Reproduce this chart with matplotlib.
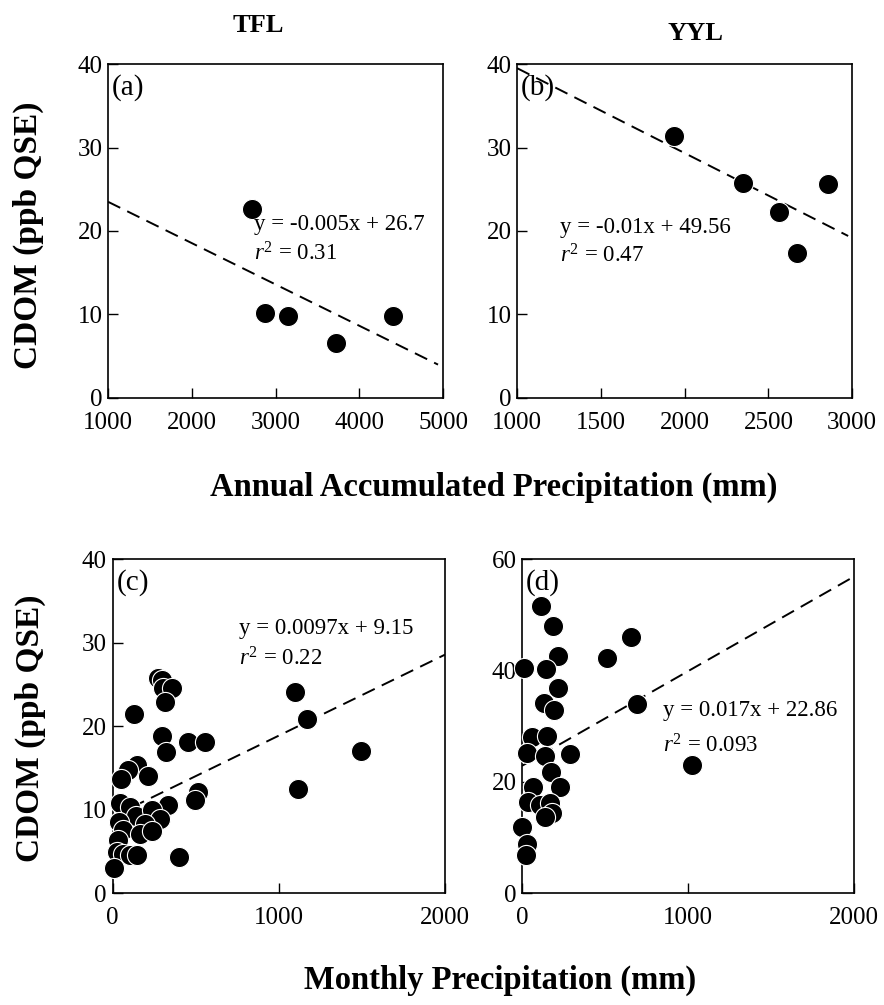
import matplotlib
matplotlib.use("Agg")
import matplotlib.pyplot as plt
import numpy as np

plt.rcParams['font.family'] = ['Liberation Serif', 'DejaVu Serif']
plt.rcParams['mathtext.fontset'] = 'custom'
plt.rcParams['mathtext.rm'] = 'Liberation Serif'
plt.rcParams['mathtext.it'] = 'Liberation Serif:italic'

# ---------------- data ----------------
# (a) TFL: annual accumulated precipitation vs CDOM
tfl_annual_precip = [2719, 2875, 3150, 3722, 4403]
tfl_annual_cdom = [22.6, 10.2, 9.8, 6.6, 9.8]
# (b) YYL
yyl_annual_precip = [1937, 2349, 2564, 2672, 2857]
yyl_annual_cdom = [31.4, 25.7, 22.3, 17.4, 25.6]

# (c) TFL monthly
tfl_month_precip = [276, 296, 305, 356, 316, 131, 296, 452, 556, 320,
                    145, 91, 212, 51, 516, 496, 332,
                    45, 105, 139, 236, 286, 39, 195, 65, 165, 236, 35,
                    25, 65, 105, 149, 11, 400,
                    1097, 1168, 1498, 1117]
tfl_month_cdom = [25.7, 25.5, 24.5, 24.5, 22.9, 21.5, 18.8, 18.1, 18.1, 16.9,
                  15.3, 14.7, 14.0, 13.6, 12.1, 11.2, 10.5,
                  10.8, 10.3, 9.2, 9.9, 8.9, 8.5, 8.3, 7.5, 7.1, 7.4, 6.3,
                  4.9, 4.7, 4.6, 4.6, 3.0, 4.3,
                  24.1, 20.8, 17.0, 12.5]
# (d) YYL monthly
yyl_month_precip = [114, 184, 214, 14, 142, 515, 659, 214, 134, 194, 692, 1023,
                    58, 148, 28, 138, 288, 174, 68, 228, 34, 108, 168, 182,
                    138, 0, 28, 22]
yyl_month_cdom = [51.6, 48.0, 42.6, 40.5, 40.2, 42.2, 46.0, 36.9, 34.2, 32.9, 33.9, 23.0,
                  28.1, 28.2, 25.1, 24.6, 25.0, 21.8, 19.1, 19.0, 16.4, 15.8, 16.2, 14.3,
                  13.7, 11.9, 8.8, 6.8]

# regression lines (slope, intercept) and line x-extent
fit_a = (-0.00495, 28.45); fit_a_x = [1000, 4940]
fit_b = (-0.01017, 49.67); fit_b_x = [1000, 2976]
fit_c = (0.0097, 9.15); fit_c_x = [0, 2000]
fit_d = (0.017, 22.86); fit_d_x = [0, 1990]

eq_a = ["y = -0.005x + 26.7", r"$\mathit{r}^{2}$ = 0.31"]
eq_b = ["y = -0.01x + 49.56", r"$\mathit{r}^{2}$ = 0.47"]
eq_c = ["y = 0.0097x + 9.15", r"$\mathit{r}^{2}$ = 0.22"]
eq_d = ["y = 0.017x + 22.86", r"$\mathit{r}^{2}$ = 0.093"]

# ---------------- figure ----------------
fig = plt.figure(figsize=(8.84, 10.05), dpi=100)
axa = fig.add_axes([0.1222, 0.604, 0.379, 0.3323])
axb = fig.add_axes([0.585, 0.604, 0.379, 0.3323])
axc = fig.add_axes([0.1273, 0.1114, 0.376, 0.3323])
axd = fig.add_axes([0.5905, 0.1114, 0.3756, 0.3323])

TICK_FS = 18
EQ_FS = 16.5

def style(ax, xlim, ylim, xticks, yticks):
    ax.set_xlim(*xlim)
    ax.set_ylim(*ylim)
    ax.set_xticks(xticks)
    ax.set_yticks(yticks)
    ax.tick_params(direction='in', length=7, width=1, labelsize=TICK_FS,
                   top=False, right=False)
    ax.tick_params(axis='x', pad=10)
    ax.tick_params(axis='y', pad=4)
    for s in ax.spines.values():
        s.set_linewidth(1.2)

def draw(ax, x, y, fit, fx, eq, eqpos, label, ms=210):
    xx = np.array(fx, dtype=float)
    ax.plot(xx, fit[0] * xx + fit[1], ls=(0, (7, 4)), color='black', lw=1.4, zorder=2)
    ax.scatter(x, y, s=ms, c='black', edgecolors='white', linewidths=0.8, zorder=3,
               clip_on=False)
    ax.text(eqpos[0], eqpos[1], eq[0], transform=ax.transAxes, fontsize=EQ_FS,
            va='center', ha='left', zorder=4)
    ax.text(eqpos[0], eqpos[2], eq[1], transform=ax.transAxes, fontsize=EQ_FS,
            va='center', ha='left', zorder=4)
    ax.text(0.012, 0.93, label, transform=ax.transAxes, fontsize=21,
            va='center', ha='left', zorder=4)

style(axa, (1000, 5000), (0, 40), [1000, 2000, 3000, 4000, 5000], [0, 10, 20, 30, 40])
style(axb, (1000, 3000), (0, 40), [1000, 1500, 2000, 2500, 3000], [0, 10, 20, 30, 40])
style(axc, (0, 2000), (0, 40), [0, 1000, 2000], [0, 10, 20, 30, 40])
style(axd, (0, 2000), (0, 60), [0, 1000, 2000], [0, 20, 40, 60])

draw(axa, tfl_annual_precip, tfl_annual_cdom, fit_a, fit_a_x, eq_a, (0.436, 0.518, 0.432), "(a)")
draw(axb, yyl_annual_precip, yyl_annual_cdom, fit_b, fit_b_x, eq_b, (0.128, 0.509, 0.425), "(b)")
draw(axc, tfl_month_precip, tfl_month_cdom, fit_c, fit_c_x, eq_c, (0.381, 0.793, 0.70), "(c)")
draw(axd, yyl_month_precip, yyl_month_cdom, fit_d, fit_d_x, eq_d, (0.424, 0.548, 0.44), "(d)")

fig.text(28 / 884, 1 - 235 / 1005, "CDOM (ppb QSE)", fontsize=24, fontweight='bold',
         rotation=90, ha='center', va='center')
fig.text(30 / 884, 1 - 728 / 1005, "CDOM (ppb QSE)", fontsize=24, fontweight='bold',
         rotation=90, ha='center', va='center')

fig.text(258 / 884, 1 - 26 / 1005, "TFL", fontsize=19, fontweight='bold', ha='center', va='center')
fig.text(696 / 884, 1 - 33 / 1005, "YYL", fontsize=19, fontweight='bold', ha='center', va='center')
fig.text(494 / 884, 1 - 487 / 1005, "Annual Accumulated Precipitation (mm)", fontsize=23.5,
         fontweight='bold', ha='center', va='center')
fig.text(500 / 884, 1 - 980 / 1005, "Monthly Precipitation (mm)", fontsize=23.5,
         fontweight='bold', ha='center', va='center')

fig.savefig("out.png", dpi=100, facecolor='white')
